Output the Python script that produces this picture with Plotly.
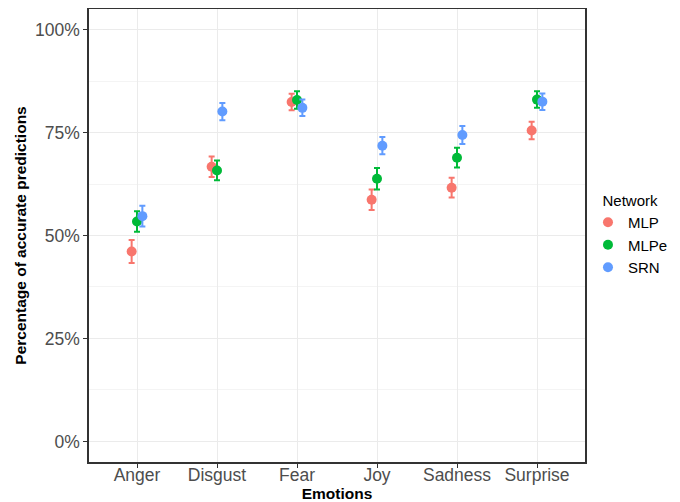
import plotly.graph_objects as go

emotions = ["Anger", "Disgust", "Fear", "Joy", "Sadness", "Surprise"]
networks = ["MLP", "MLPe", "SRN"]
mlp_vals = [46.1, 66.7, 82.4, 58.7, 61.6, 75.5]
mlp_err = [2.8, 2.5, 2.0, 2.5, 2.4, 2.1]
mlpe_vals = [53.4, 65.8, 82.9, 63.8, 68.9, 83.0]
mlpe_err = [2.5, 2.4, 2.1, 2.6, 2.4, 2.0]
srn_vals = [54.7, 80.1, 81.0, 71.8, 74.4, 82.5]
srn_err = [2.5, 2.1, 2.0, 2.1, 2.2, 2.0]
colors = ["#F8766D", "#00BA38", "#619CFF"]
y_ticks = [0, 25, 50, 75, 100]
y_ticktext = ["0%", "25%", "50%", "75%", "100%"]

series = [mlp_vals, mlpe_vals, srn_vals]
errs = [mlp_err, mlpe_err, srn_err]
offsets = [-0.067, 0.0, 0.067]

fig = go.Figure()
for name, vals, err, col, off in zip(networks, series, errs, colors, offsets):
    fig.add_trace(go.Scatter(
        x=[i + off for i in range(len(emotions))],
        y=vals,
        mode="markers",
        name=name,
        marker=dict(color=col, size=10),
        error_y=dict(type="data", array=err, color=col, thickness=2, width=3),
    ))

font_family = "Liberation Sans, Arial, sans-serif"
fig.update_layout(
    width=672, height=494,
    margin=dict(l=81, r=95, t=1, b=40, autoexpand=False),
    paper_bgcolor="white", plot_bgcolor="white",
    font=dict(family=font_family, color="black"),
    xaxis=dict(
        range=[-0.6, 5.6], automargin=False,
        tickvals=list(range(len(emotions))), ticktext=emotions,
        tickfont=dict(size=17.5, color="#4D4D4D"),
        showgrid=True, gridcolor="#EBEBEB", gridwidth=1.2,
        zeroline=False,
        ticks="outside", ticklen=4, tickcolor="#333333",
        showline=True, linecolor="#333333", linewidth=1.5, mirror=True,
        ticklabelstandoff=-8,
        title=dict(text="<b>Emotions</b>", font=dict(size=15.5), standoff=0),
    ),
    yaxis=dict(
        range=[-5, 105], automargin=False,
        tickvals=y_ticks, ticktext=y_ticktext,
        tickfont=dict(size=17.5, color="#4D4D4D"),
        showgrid=True, gridcolor="#EBEBEB", gridwidth=1.2,
        zeroline=False,
        ticks="outside", ticklen=4, tickcolor="#333333",
        showline=True, linecolor="#333333", linewidth=1.5, mirror=True,
        minor=dict(tick0=0, dtick=12.5, showgrid=True, gridcolor="#F4F4F4", gridwidth=0.8, ticks=""),
        title=dict(text="<b>Percentage of accurate predictions</b>", font=dict(size=15.5), standoff=5),
    ),
    legend=dict(
        title=dict(text="&nbsp;&nbsp;&nbsp;Network", font=dict(size=15)),
        font=dict(size=15),
        x=1.006, xanchor="left", y=0.608, yanchor="top",
        bgcolor="rgba(0,0,0,0)", tracegroupgap=0,
    ),
)

fig.write_html("out.html")
